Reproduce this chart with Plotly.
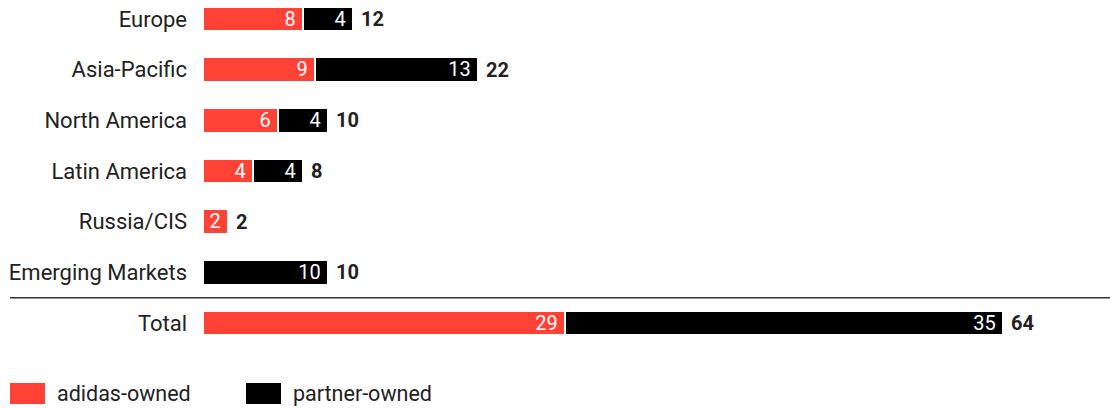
import plotly.graph_objects as go

categories = ["Europe", "Asia-Pacific", "North America", "Latin America",
              "Russia/CIS", "Emerging Markets", "Total"]
adidas_owned = [8, 9, 6, 4, 2, 0, 29]
partner_owned = [4, 13, 4, 4, 0, 10, 35]
totals = [12, 22, 10, 8, 2, 10, 64]
legend_labels = ["adidas-owned", "partner-owned"]

RED = "#ff4136"
BLACK = "#000000"
FONT = "Roboto"
FS = 22
SEP = 2.5

W, H = 1110, 409
L, T, B = 204, 0, 61
plot_w = W - L
plot_h = H - T - B
px_per_unit = 12.5
row_px = 50.67
first_center = 19

def txt(vals):
    return [str(v) + "\u2009" if v else "" for v in vals]

fig = go.Figure()
for name, vals, col in [(legend_labels[0], adidas_owned, RED),
                        (legend_labels[1], partner_owned, BLACK)]:
    fig.add_trace(go.Bar(
        y=categories, x=vals, orientation="h", name=name,
        marker=dict(color=col, line=dict(color="white", width=SEP)),
        text=txt(vals), textposition="inside", insidetextanchor="end",
        textangle=0,
        textfont=dict(color="white", size=20, family=FONT),
        width=(22 + SEP) / row_px, showlegend=False, hoverinfo="skip",
        cliponaxis=False,
    ))

for c, t in zip(categories, totals):
    fig.add_annotation(x=t, y=c, text="<b>%d</b>" % t, showarrow=False,
                       xanchor="left", xshift=6,
                       font=dict(size=20, family=FONT, color="#222"))

def px_x(p):
    return (p - L) / plot_w

def px_y(p):
    return (T + plot_h - p) / plot_h

# separator line between markets and total
fig.add_shape(type="line", xref="paper", yref="y", x0=px_x(10), x1=1,
              y0=5.5, y1=5.5, line=dict(color="#333", width=1.5))

# legend
for lab, col, x0 in [(legend_labels[0], RED, 10), (legend_labels[1], BLACK, 246)]:
    fig.add_shape(type="rect", xref="paper", yref="paper",
                  x0=px_x(x0), x1=px_x(x0 + 35), y0=px_y(404), y1=px_y(383),
                  fillcolor=col, line=dict(width=0))
    fig.add_annotation(xref="paper", yref="paper", x=px_x(x0 + 45), y=px_y(393.5),
                       text=lab, showarrow=False, xanchor="left", yanchor="middle",
                       font=dict(size=FS - 0.5, family=FONT, color="#222"))

y0 = -first_center / row_px
y1 = (plot_h - first_center) / row_px
x_lo = (SEP / 2) / px_per_unit
fig.update_layout(
    width=W, height=H, barmode="stack", bargap=0,
    margin=dict(l=L, r=0, t=T, b=B, pad=0),
    plot_bgcolor="white", paper_bgcolor="white",
    font=dict(family=FONT, size=FS, color="#222"),
    uniformtext=dict(minsize=20, mode="show"),
    xaxis=dict(range=[x_lo, x_lo + plot_w / px_per_unit], visible=False, fixedrange=True),
    yaxis=dict(range=[y1, y0], showgrid=False, zeroline=False, showline=False,
               ticks="", ticklabelstandoff=16, tickfont=dict(size=FS, family=FONT, color="#222"),
               fixedrange=True),
)
fig.write_html("out.html", config={"displayModeBar": False},
               post_script="document.body.style.margin='0';document.body.style.overflow='hidden';")
